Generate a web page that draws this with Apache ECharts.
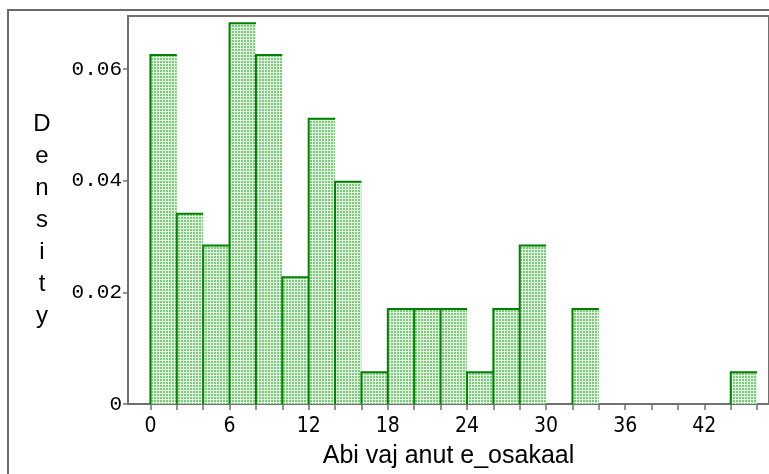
<!DOCTYPE html>
<html>
<head>
<meta charset="utf-8">
<script src="https://cdn.jsdelivr.net/npm/echarts@6/dist/echarts.min.js"></script>
<style>html,body{margin:0;padding:0;background:#fff;}#c{width:769px;height:474px;}</style>
</head>
<body>
<div id="c"></div>
<script>
const binStart = [0,2,4,6,8,10,12,14,16,18,20,22,24,26,28,30,32,34,36,38,40,42,44];
const binEnd   = [2,4,6,8,10,12,14,16,18,20,22,24,26,28,30,32,34,36,38,40,42,44,46];
const density  = [0.0625,0.0341,0.0284,0.0682,0.0625,0.0227,0.0511,0.0398,0.0057,0.0170,0.0170,0.0170,0.0057,0.0170,0.0284,0,0.0170,0,0,0,0,0,0.0057];
const xTicks = [0,2,4,6,8,10,12,14,16,18,20,22,24,26,28,30,32,34,36,38,40,42,44,46];
const xLabels = [0,6,12,18,24,30,36,42];
const yTicks = [0,0.02,0.04,0.06];
const xTitle = 'Abi vaj anut e_osakaal';
const yTitle = 'D\ne\nn\ns\ni\nt\ny';

// fill pattern
const tile = document.createElement('canvas');
tile.width = 3; tile.height = 3;
const tc = tile.getContext('2d');
tc.fillStyle = 'rgb(128,200,128)';
tc.fillRect(0,0,3,3);
tc.fillStyle = 'rgb(222,242,222)';
tc.fillRect(0,0,3,1);
tc.fillRect(0,0,1,3);
const pattern = {image: tile, repeat: 'repeat'};

const data = binStart.map((s,i)=>[s, binEnd[i], density[i]]).filter(d=>d[2]>0);

const chart = echarts.init(document.getElementById('c'), null, {renderer:'canvas'});
chart.setOption({
  animation: false,
  graphic: [{
    type: 'rect', shape: {x: 8, y: 10, width: 820, height: 520},
    style: {fill: null, stroke: '#6a6a6a', lineWidth: 2}, z: 0
  }, {
    type: 'text', x: 42, y: 220,
    style: {text: yTitle, fill: '#000', font: '24px "Liberation Sans"', align: 'center', verticalAlign: 'middle', lineHeight: 32}
  }],
  grid: {left: 128, top: 16, right: -4, bottom: 64, show: true, borderColor: '#707070', borderWidth: 2, backgroundColor: 'transparent'},
  xAxis: {
    type: 'value', min: -1.7, max: 46.9,
    splitLine: {show: false},
    axisLine: {show: true, onZero: false, lineStyle: {color: '#707070', width: 2}},
    axisTick: {show: true, length: 6, lineStyle: {color: '#707070', width: 1.5}, customValues: xTicks},
    axisLabel: {customValues: xLabels, color: '#000', fontFamily: 'DejaVu Sans Condensed', fontSize: 21, margin: 12},
    name: xTitle, nameLocation: 'middle', nameGap: 40,
    nameTextStyle: {color: '#000', fontFamily: 'Liberation Sans', fontSize: 25}
  },
  yAxis: {
    type: 'value', min: 0, max: 0.0695,
    splitLine: {show: false},
    axisLine: {show: true, onZero: false, lineStyle: {color: '#707070', width: 2}},
    axisTick: {show: true, length: 5, lineStyle: {color: '#707070', width: 1.5}, customValues: yTicks},
    axisLabel: {customValues: yTicks, color: '#000', fontFamily: 'Liberation Mono', fontSize: 21, margin: 6,
      formatter: v => v === 0 ? '0' : v.toFixed(2)}
  },
  series: [{
    type: 'custom',
    data: data,
    encode: {x: [0,1], y: 2},
    clip: true,
    renderItem: function(params, api){
      const x0 = api.value(0), x1 = api.value(1), y = api.value(2);
      const p0 = api.coord([x0, 0]);
      const p1 = api.coord([x1, y]);
      return {type: 'group', children: [
        {type: 'rect', shape: {x: p0[0], y: p1[1], width: p1[0]-p0[0], height: p0[1]-p1[1]}, style: {fill: pattern}},
        {type: 'polyline', shape: {points: [[p0[0], p0[1]], [p0[0], p1[1]], [p1[0], p1[1]]]}, style: {stroke: '#008200', lineWidth: 2, fill: null}}
      ]};
    }
  }]
});
</script>
</body>
</html>
